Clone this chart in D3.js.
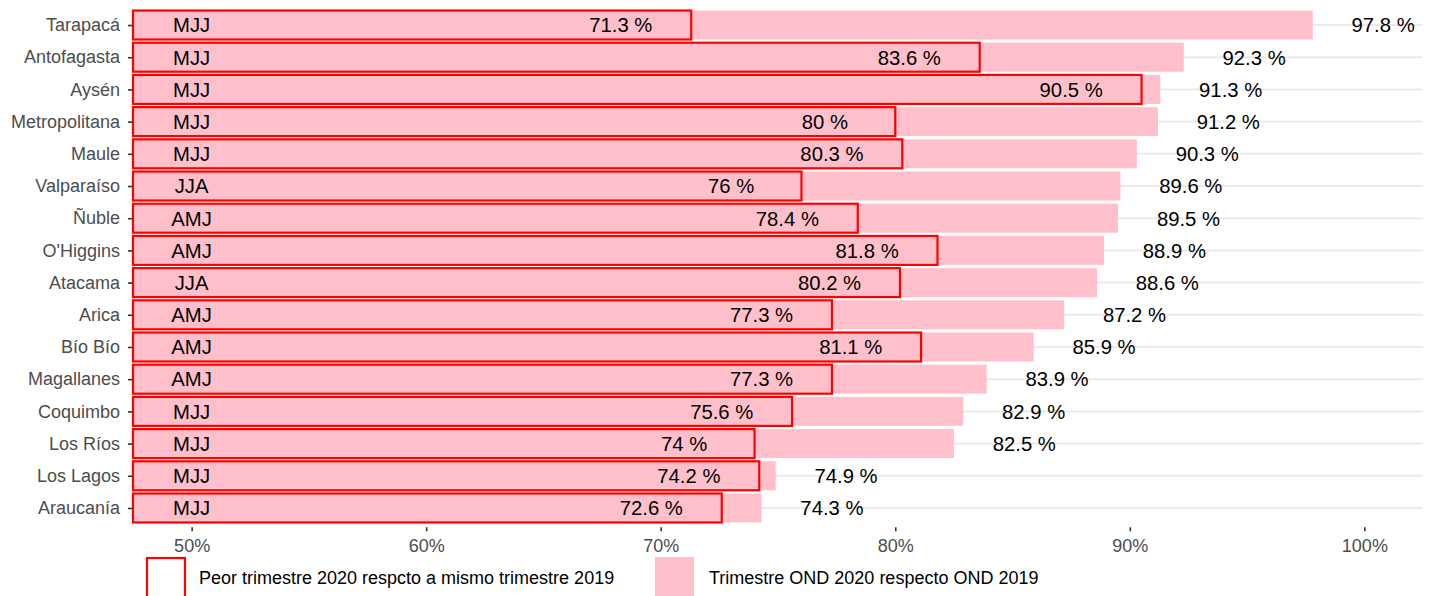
<!DOCTYPE html>
<html>
<head>
<meta charset="utf-8">
<script src="https://cdn.jsdelivr.net/npm/d3@7"></script>
<style>
  body { margin:0; background:#fff; }
  text { font-family: "Liberation Sans", Arial, sans-serif; }
</style>
</head>
<body>
<svg id="chart" width="1433" height="596"></svg>
<script>
const regiones = ["Tarapacá","Antofagasta","Aysén","Metropolitana","Maule","Valparaíso","Ñuble","O'Higgins","Atacama","Arica","Bío Bío","Magallanes","Coquimbo","Los Ríos","Los Lagos","Araucanía"];
const peorTrimestre = [71.3,83.6,90.5,80,80.3,76,78.4,81.8,80.2,77.3,81.1,77.3,75.6,74,74.2,72.6];
const ond2020 = [97.8,92.3,91.3,91.2,90.3,89.6,89.5,88.9,88.6,87.2,85.9,83.9,82.9,82.5,74.9,74.3];
const trimestre = ["MJJ","MJJ","MJJ","MJJ","MJJ","JJA","AMJ","AMJ","JJA","AMJ","AMJ","AMJ","MJJ","MJJ","MJJ","MJJ"];
const xTicks = [50,60,70,80,90,100];
const legendLabels = ["Peor trimestre 2020 respcto a mismo trimestre 2019","Trimestre OND 2020 respecto OND 2019"];

const PINK = "#FFC0CB", RED = "#FF0000";
const svg = d3.select("#chart");
const pLeft = 133, pRight = 1423, pTop = 5.7, pBottom = 527.3;

const x = d3.scaleLinear().domain([47.5, 102.5]).range([pLeft, pRight]);
const y = d3.scalePoint().domain(regiones).range([pTop, pBottom]).padding(0.6);
const bh = y.step() * 0.9;

const rows = regiones.map((r,i) => ({ r, peor:peorTrimestre[i], ond:ond2020[i], tri:trimestre[i] }));

// gridlines
svg.append("g").selectAll("line").data(regiones).enter().append("line")
  .attr("x1", pLeft).attr("x2", pRight)
  .attr("y1", d=>y(d)).attr("y2", d=>y(d))
  .attr("stroke","#EBEBEB").attr("stroke-width",2);

// pink bars (OND)
svg.append("g").selectAll("rect").data(rows).enter().append("rect")
  .attr("x", x(47.5)).attr("y", d=>y(d.r)-bh/2)
  .attr("width", d=>x(d.ond)-x(47.5)).attr("height", bh)
  .attr("fill", PINK);

// red outline bars (peor trimestre)
svg.append("g").selectAll("rect").data(rows).enter().append("rect")
  .attr("x", x(47.5)).attr("y", d=>y(d.r)-bh/2)
  .attr("width", d=>x(d.peor)-x(47.5)).attr("height", bh)
  .attr("fill", "none").attr("stroke", RED).attr("stroke-width", 2.2);

// labels
const lab = svg.append("g").attr("font-size","20.3px").attr("fill","#000").attr("text-anchor","middle");
lab.selectAll("text.ond").data(rows).enter().append("text")
  .attr("x", d=>x(d.ond+3)).attr("y", d=>y(d.r)).attr("dy","0.36em")
  .text(d=>`${d.ond} %`);
lab.selectAll("text.peor").data(rows).enter().append("text")
  .attr("x", d=>x(d.peor-3)).attr("y", d=>y(d.r)).attr("dy","0.36em")
  .text(d=>`${d.peor} %`);
lab.selectAll("text.tri").data(rows).enter().append("text")
  .attr("x", x(50)).attr("y", d=>y(d.r)).attr("dy","0.36em")
  .text(d=>d.tri);

// y axis
const yAx = svg.append("g").attr("transform",`translate(${pLeft},0)`)
  .call(d3.axisLeft(y).tickSize(5).tickPadding(8));
yAx.select(".domain").remove();
yAx.selectAll("line").attr("stroke","#333").attr("stroke-width",1.6);
yAx.selectAll("text").attr("font-size","18px").attr("fill","#4D4D4D").attr("font-family","Liberation Sans, Arial, sans-serif");

// x axis
const xAx = svg.append("g").attr("transform",`translate(0,${pBottom})`)
  .call(d3.axisBottom(x).tickValues(xTicks).tickFormat(d=>d+"%").tickSize(4).tickPadding(8));
xAx.select(".domain").remove();
xAx.selectAll("line").attr("stroke","#333").attr("stroke-width",1.6);
xAx.selectAll("text").attr("font-size","18px").attr("fill","#4D4D4D").attr("font-family","Liberation Sans, Arial, sans-serif");

// legend
const lg = svg.append("g");
lg.append("rect").attr("x",147).attr("y",558).attr("width",38).attr("height",40)
  .attr("fill","#fff").attr("stroke",RED).attr("stroke-width",2.2);
lg.append("text").attr("x",199).attr("y",578).attr("dy","0.36em").attr("font-size","18px").text(legendLabels[0]);
lg.append("rect").attr("x",655).attr("y",557).attr("width",39).attr("height",42).attr("fill",PINK);
lg.append("text").attr("x",709).attr("y",578).attr("dy","0.36em").attr("font-size","18px").text(legendLabels[1]);
</script>
</body>
</html>
